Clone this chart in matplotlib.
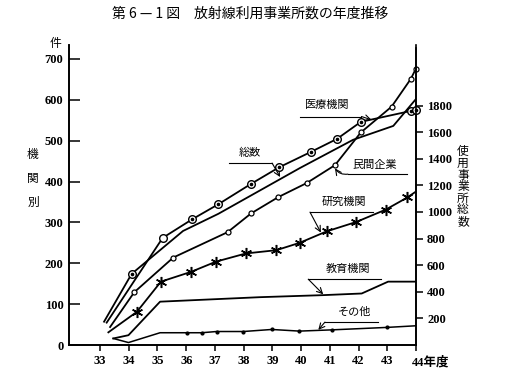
import matplotlib
matplotlib.use('Agg')
import matplotlib.pyplot as plt

JP = ['Noto Sans CJK JP', 'DejaVu Sans']
NUM = ['Liberation Serif', 'Noto Sans CJK JP']

# 総数 (right axis, 使用事業所総数)
total_x = [33.23, 35.18, 36.21, 37.12, 38.25, 39.23, 40.34, 41.25, 42.08, 43.82, 43.99]
total_y = [168, 805, 945, 1058, 1210, 1335, 1451, 1549, 1677, 1759, 1767]

# 医療機関
med_x = [33.14, 34.10, 35.89, 37.12, 39.96, 41.81, 43.21, 43.99]
med_y = [57, 174, 279, 321, 433, 502, 536, 601]

# 民間企業
priv_x = [33.35, 34.19, 35.55, 37.44, 38.26, 39.21, 40.19, 41.18, 42.08, 43.15, 43.82, 43.99]
priv_y = [44, 129, 214, 276, 322, 362, 396, 440, 520, 583, 651, 675]

# 研究機関
res_x = [33.29, 34.28, 35.12, 36.17, 37.04, 38.08, 39.14, 39.95, 40.89, 41.92, 42.94, 43.70, 43.99]
res_y = [31, 81, 155, 179, 204, 224, 232, 250, 278, 301, 331, 361, 375]

# 教育機関
edu_x = [33.46, 33.99, 35.09, 38.57, 40.77, 42.11, 43.03, 43.99]
edu_y = [16, 24, 106, 117, 122, 126, 155, 155]

# その他
oth_x = [33.46, 33.99, 35.09, 36.04, 36.54, 37.06, 37.99, 38.98, 39.94, 41.06, 42.98, 43.99]
oth_y = [16, 6, 30, 30, 30, 33, 33, 38, 34, 37, 43, 47]

year_ticks = list(range(33, 45))
left_ticks = list(range(0, 800, 100))
right_ticks = list(range(200, 2000, 200))

fig = plt.figure(figsize=(5.06, 3.78), dpi=100)
ax = fig.add_axes([0.1364, 0.0873, 0.6857, 0.7937])
ax2 = ax.twinx()

lw = 1.3
k = 'black'
mk = dict(clip_on=False)

ax2.plot(total_x, total_y, color=k, lw=lw)
ax2.plot(total_x[1:2], total_y[1:2], 'o', ms=5.5, mfc='white', mec=k, mew=1.0, **mk)
ax2.plot(total_x[2:], total_y[2:], 'o', ms=5.5, mfc='white', mec=k, mew=1.0, **mk)
ax2.plot(total_x[2:], total_y[2:], 'o', ms=1.6, color=k, **mk)

ax.plot(med_x, med_y, color=k, lw=lw)
ax.plot(med_x[1:2], med_y[1:2], 'o', ms=5.5, mfc='white', mec=k, mew=1.0)
ax.plot(med_x[1:2], med_y[1:2], 'o', ms=1.6, color=k)

ax.plot(priv_x, priv_y, color=k, lw=lw)
ax.plot(priv_x[1:], priv_y[1:], 'o', ms=3.6, mfc='white', mec=k, mew=0.9, **mk)

ax.plot(res_x, res_y, color=k, lw=lw)
ax.plot(res_x[1:-1], res_y[1:-1], ls='none', marker=(6, 2, 0), ms=8, mec=k, mew=1.1)

ax.plot(edu_x, edu_y, color=k, lw=lw)

ax.plot(oth_x, oth_y, color=k, lw=1.1)
ax.plot(oth_x[3:-1], oth_y[3:-1], 'o', ms=2, color=k)

ax.set_xlim(31.92, 44.0)
ax.set_ylim(0, 734)
ax2.set_ylim(0, 734 * 3.072)

ax.set_xticks(year_ticks)
ax.set_xticklabels([str(y) for y in year_ticks[:-1]] + [''], family=NUM, fontsize=9, weight='bold')
ax.set_yticks(left_ticks)
ax.set_yticklabels([str(v) for v in left_ticks], family=NUM, fontsize=9, weight='bold')
ax2.set_yticks(right_ticks)
ax2.set_yticklabels([str(v) for v in right_ticks], family=NUM, fontsize=9, weight='bold')

ax.tick_params(axis='y', direction='in', length=8, width=1.1, pad=4)
ax.tick_params(axis='x', direction='out', length=4, width=1.1, pad=3)
ax2.tick_params(axis='y', direction='out', length=5, width=1.1, pad=3)

for a in (ax, ax2):
    a.spines['top'].set_visible(False)
    for s in ('left', 'right', 'bottom'):
        a.spines[s].set_linewidth(1.2)
ax2.spines['right'].set_bounds(0, 2230)

ax.annotate('44年度', xy=(44, 0), xytext=(-3, -8), textcoords='offset points',
            ha='left', va='top', fontsize=9, family=NUM, weight='bold')

# axis labels
fig.text(55 / 506, 1 - 43 / 378, '件', family=JP, fontsize=8.5, ha='center', va='center')
for i, ch in enumerate('機関別'):
    fig.text(33 / 506, 1 - (155 + 23.5 * i) / 378, ch, family=JP, fontsize=8.5,
             ha='center', va='center')
for i, ch in enumerate('使用事業所総数'):
    fig.text(463 / 506, 1 - (152 + 11.6 * i) / 378, ch, family=JP, fontsize=8.5,
             ha='center', va='center')

fig.text(0.494, 1 - 14 / 378, '第 6 — 1 図　放射線利用事業所数の年度推移', family=JP,
         fontsize=10, ha='center', va='center')

# series labels with leader lines
def label(text, center, line_x, line_y, start, tip, rad=0.0):
    ax.text(center[0], center[1], text, family=JP, fontsize=8, ha='center', va='center')
    ax.plot(line_x, [line_y, line_y], color=k, lw=0.8)
    ax.annotate('', xy=tip, xytext=start,
                arrowprops=dict(arrowstyle='->', lw=0.8, color=k,
                                shrinkA=0, shrinkB=0,
                                connectionstyle=f'arc3,rad={rad}'))

label('総数', (38.22, 470), [37.49, 38.99], 445, (38.99, 445), (39.27, 411))
label('医療機関', (40.90, 587), [39.96, 42.10], 559, (42.10, 559), (42.45, 551))
label('民間企業', (42.57, 440), [41.63, 43.69], 418, (41.63, 418), (41.18, 432), rad=-0.3)
label('研究機関', (41.49, 350), [40.31, 42.49], 325, (40.31, 325), (40.69, 275))
label('教育機関', (41.63, 185), [40.25, 42.78], 161, (40.25, 161), (40.77, 124))
label('その他', (41.88, 82), [40.83, 42.69], 56, (40.83, 56), (40.60, 37))

fig.savefig('out.png', dpi=100)
